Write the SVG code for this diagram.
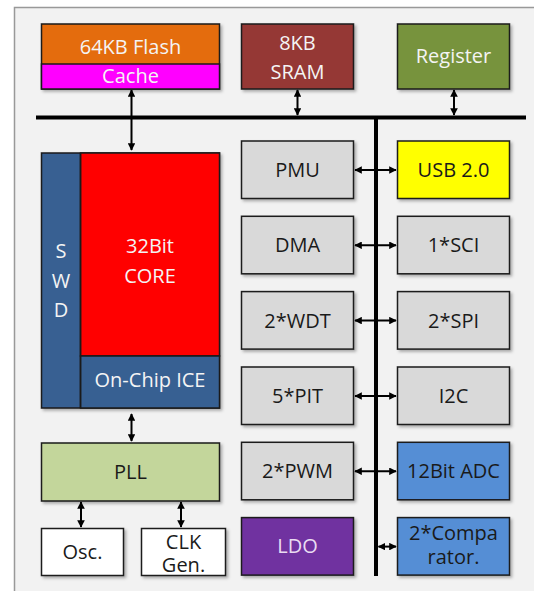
<svg xmlns="http://www.w3.org/2000/svg" width="534" height="591" viewBox="0 0 534 591">
<defs>
<style>
.box{stroke:#1a1a1a;stroke-width:1.5;filter:url(#sh)}
.t{font-family:"Open Sans","Liberation Sans",sans-serif;font-size:20px;text-anchor:middle;fill:#1a1a1a}
.w{fill:#f4f4f4}
.c{stroke:#000;stroke-width:2;fill:none;marker-start:url(#ah);marker-end:url(#ah)}
.bus{stroke:#000;stroke-width:4;fill:none}
</style>
<filter id="sh" x="-10%" y="-10%" width="125%" height="125%">
<feDropShadow dx="2" dy="2" stdDeviation="1.5" flood-color="#000" flood-opacity="0.3"/>
</filter>
<marker id="ah" viewBox="0 0 10 10" refX="9" refY="5" markerWidth="3.8" markerHeight="3.8" orient="auto-start-reverse" markerUnits="strokeWidth">
<path d="M0,0 L10,5 L0,10 z" fill="#000"/>
</marker>
</defs>
<rect x="0" y="0" width="534" height="591" fill="#fff"/>
<rect x="14.5" y="7.5" width="530" height="600" fill="#f2f2f2" stroke="#999" stroke-width="1.5"/>

<g id="connectors">
<path class="bus" d="M36,117.5 H526"/>
<path class="bus" d="M376,117.5 V576"/>
<path class="c" d="M131.5,90 V150"/>
<path class="c" d="M297.5,90 V115"/>
<path class="c" d="M454,90 V115"/>
<path class="c" d="M131.5,414 V441"/>
<path class="c" d="M81,502 V527"/>
<path class="c" d="M181,502 V527"/>
<path class="c" d="M355,170 H396"/>
<path class="c" d="M355,245.3 H396"/>
<path class="c" d="M355,320.6 H396"/>
<path class="c" d="M355,396 H396"/>
<path class="c" d="M355,471.3 H396"/>
<path class="c" d="M378.5,546.6 H396"/>
</g>

<g id="flash">
<rect class="box" x="41.5" y="24" width="178" height="65" fill="#e46c0a"/>
<rect x="41.5" y="64" width="178" height="25" fill="#ff00ff" stroke="#1a1a1a" stroke-width="1.5"/>
<text class="t w" x="130.5" y="54" font-size="20">64KB Flash</text>
<text class="t w" x="130.5" y="83" font-size="16">Cache</text>
</g>
<g id="sram">
<rect class="box" x="241.5" y="24" width="112" height="65" fill="#953735"/>
<text class="t w" x="297.5" y="50" font-size="20">8KB</text>
<text class="t w" x="297.5" y="79" font-size="20">SRAM</text>
</g>
<g id="register">
<rect class="box" x="397.5" y="24" width="112" height="65" fill="#77933c"/>
<text class="t w" x="453.5" y="63" font-size="20">Register</text>
</g>

<g id="core">
<rect class="box" x="41.5" y="153" width="178" height="255" fill="#376092"/>
<rect x="80.5" y="153" width="139" height="203" fill="#ff0000" stroke="#1a1a1a" stroke-width="1.5"/>
<rect x="80.5" y="356" width="139" height="52" fill="#376092" stroke="#1a1a1a" stroke-width="1.5"/>
<line x1="80.5" y1="153" x2="80.5" y2="408" stroke="#1a1a1a" stroke-width="1.5"/>
<text class="t w" x="150" y="253" font-size="20">32Bit</text>
<text class="t w" x="150" y="283" font-size="20">CORE</text>
<text class="t w" x="61" y="258" font-size="20">S</text>
<text class="t w" x="61" y="288" font-size="20">W</text>
<text class="t w" x="61" y="317" font-size="20">D</text>
<text class="t w" x="150" y="387" font-size="19">On-Chip ICE</text>
</g>

<g id="pll">
<rect class="box" x="41.5" y="443" width="178" height="58" fill="#c3d69b"/>
<text class="t" x="130.5" y="479">PLL</text>
</g>
<g id="osc">
<rect class="box" x="41.5" y="528.5" width="82" height="47" fill="#fff"/>
<text class="t" x="82.5" y="559">Osc.</text>
</g>
<g id="clkgen">
<rect class="box" x="141.5" y="528.5" width="84" height="47" fill="#fff"/>
<text class="t" x="183.5" y="549" font-size="19">CLK</text>
<text class="t" x="183.5" y="572" font-size="19">Gen.</text>
</g>

<g id="pmu"><rect class="box" x="241.5" y="141" width="112" height="57.5" fill="#d9d9d9"/><text class="t" x="297.5" y="177">PMU</text></g>
<g id="dma"><rect class="box" x="241.5" y="216.3" width="112" height="57.5" fill="#d9d9d9"/><text class="t" x="297.5" y="252.3">DMA</text></g>
<g id="wdt"><rect class="box" x="241.5" y="291.6" width="112" height="57.5" fill="#d9d9d9"/><text class="t" x="297.5" y="327.6">2*WDT</text></g>
<g id="pit"><rect class="box" x="241.5" y="367" width="112" height="57.5" fill="#d9d9d9"/><text class="t" x="297.5" y="403">5*PIT</text></g>
<g id="pwm"><rect class="box" x="241.5" y="442.3" width="112" height="57.5" fill="#d9d9d9"/><text class="t" x="297.5" y="478.3">2*PWM</text></g>
<g id="ldo"><rect class="box" x="241.5" y="517.6" width="112" height="57.5" fill="#7030a0"/><text class="t" x="297.5" y="553" style="fill:#eadcf2">LDO</text></g>

<g id="usb"><rect class="box" x="397.5" y="141" width="112" height="57.5" fill="#ffff00"/><text class="t" x="453.5" y="177">USB 2.0</text></g>
<g id="sci"><rect class="box" x="397.5" y="216.3" width="112" height="57.5" fill="#d9d9d9"/><text class="t" x="453.5" y="252.3">1*SCI</text></g>
<g id="spi"><rect class="box" x="397.5" y="291.6" width="112" height="57.5" fill="#d9d9d9"/><text class="t" x="453.5" y="327.6">2*SPI</text></g>
<g id="i2c"><rect class="box" x="397.5" y="367" width="112" height="57.5" fill="#d9d9d9"/><text class="t" x="453.5" y="403">I2C</text></g>
<g id="adc"><rect class="box" x="397.5" y="442.3" width="112" height="57.5" fill="#558ed5"/><text class="t" x="453.5" y="478.3" font-size="19">12Bit ADC</text></g>
<g id="comparator"><rect class="box" x="397.5" y="517.6" width="112" height="57.5" fill="#558ed5"/><text class="t" x="453.5" y="540" font-size="19">2*Compa</text><text class="t" x="453.5" y="564" font-size="19">rator.</text></g>
</svg>
